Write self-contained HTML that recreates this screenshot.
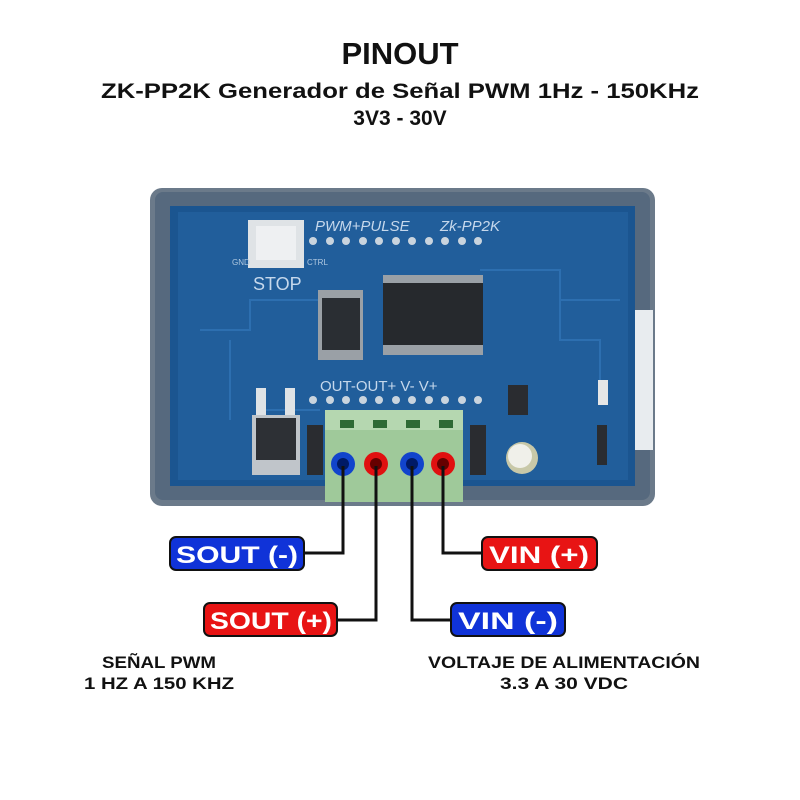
<!DOCTYPE html>
<html><head><meta charset="utf-8"><style>
html,body{margin:0;padding:0;background:#fff;width:800px;height:800px;overflow:hidden}
svg{display:block}
text{font-family:"Liberation Sans",sans-serif;font-weight:bold}
</style></head><body>
<svg width="800" height="800" viewBox="0 0 800 800">
<rect width="800" height="800" fill="#fff"/>
<text x="400" y="64" font-size="31" text-anchor="middle" fill="#111">PINOUT</text>
<text x="400" y="98" font-size="21" text-anchor="middle" fill="#111" textLength="598" lengthAdjust="spacingAndGlyphs">ZK-PP2K Generador de Señal PWM 1Hz - 150KHz</text>
<text x="400" y="125" font-size="21" text-anchor="middle" fill="#111">3V3 - 30V</text>

<rect x="150" y="188" width="505" height="318" rx="12" fill="#6b7a8a"/>
<rect x="155" y="192" width="495" height="308" rx="8" fill="#56697e"/>
<rect x="170" y="206" width="465" height="280" fill="#1b5590"/>
<rect x="178" y="212" width="450" height="268" fill="#215e9b"/>
<rect x="635" y="310" width="18" height="140" fill="#e8ecef"/>
<g stroke="#2d6fb0" stroke-width="2" fill="none">
<path d="M320 300 H250 V330 H200"/><path d="M480 270 H560 V340 H600 V400"/><path d="M230 340 V420"/><path d="M560 300 H620"/><path d="M260 410 H320"/>
</g>
<rect x="248" y="220" width="56" height="48" fill="#dfe3e6"/>
<rect x="256" y="226" width="40" height="34" fill="#eef0f2"/>
<text x="253" y="290" font-size="18" fill="#c6d8ec" style="font-weight:normal">STOP</text>
<text x="232" y="265" font-size="8" fill="#b0c8e0" style="font-weight:normal">GND</text>
<text x="307" y="265" font-size="8" fill="#b0c8e0" style="font-weight:normal">CTRL</text>
<text x="315" y="231" font-size="15" fill="#c6d8ec" font-style="italic" style="font-weight:normal">PWM+PULSE</text>
<text x="440" y="231" font-size="15" fill="#c6d8ec" font-style="italic" style="font-weight:normal">Zk-PP2K</text>
<g fill="#c9d4de">
<circle cx="313" cy="241" r="4"/><circle cx="330" cy="241" r="4"/><circle cx="346" cy="241" r="4"/><circle cx="363" cy="241" r="4"/><circle cx="379" cy="241" r="4"/><circle cx="396" cy="241" r="4"/><circle cx="412" cy="241" r="4"/><circle cx="429" cy="241" r="4"/><circle cx="445" cy="241" r="4"/><circle cx="462" cy="241" r="4"/><circle cx="478" cy="241" r="4"/>
<circle cx="313" cy="400" r="4"/><circle cx="330" cy="400" r="4"/><circle cx="346" cy="400" r="4"/><circle cx="363" cy="400" r="4"/><circle cx="379" cy="400" r="4"/><circle cx="396" cy="400" r="4"/><circle cx="412" cy="400" r="4"/><circle cx="429" cy="400" r="4"/><circle cx="445" cy="400" r="4"/><circle cx="462" cy="400" r="4"/><circle cx="478" cy="400" r="4"/>
</g>
<rect x="318" y="290" width="45" height="70" fill="#9aa0a6"/>
<rect x="322" y="298" width="38" height="52" fill="#2a2e33"/>
<rect x="383" y="275" width="100" height="80" fill="#9aa0a6"/>
<rect x="383" y="283" width="100" height="62" fill="#26292d"/>
<text x="320" y="391" font-size="15" fill="#c6d8ec" style="font-weight:normal">OUT-OUT+ V-  V+</text>
<rect x="256" y="388" width="10" height="28" fill="#dfe3e6"/><rect x="285" y="388" width="10" height="28" fill="#dfe3e6"/>
<rect x="252" y="415" width="48" height="60" fill="#c0c5ca"/>
<rect x="256" y="418" width="40" height="42" fill="#2d3035"/>
<rect x="307" y="425" width="16" height="50" fill="#2a2c30"/>
<rect x="470" y="425" width="16" height="50" fill="#2a2c30"/>
<rect x="508" y="385" width="20" height="30" fill="#2a2c30"/>
<circle cx="522" cy="458" r="16" fill="#c8c8a8"/><circle cx="520" cy="456" r="12" fill="#f0f0ea"/>
<rect x="598" y="380" width="10" height="25" fill="#e6e6e6"/>
<rect x="597" y="425" width="10" height="40" fill="#2a2c30"/>
<rect x="325" y="410" width="138" height="92" fill="#9fc99a"/>
<rect x="325" y="410" width="138" height="20" fill="#b5d7b0"/>
<rect x="340" y="420" width="14" height="8" fill="#2e6a35"/><rect x="373" y="420" width="14" height="8" fill="#2e6a35"/><rect x="406" y="420" width="14" height="8" fill="#2e6a35"/><rect x="439" y="420" width="14" height="8" fill="#2e6a35"/>
<circle cx="343" cy="464" r="12" fill="#1144cc"/><circle cx="343" cy="464" r="6" fill="#001a66"/>
<circle cx="376" cy="464" r="12" fill="#e01010"/><circle cx="376" cy="464" r="6" fill="#660000"/>
<circle cx="412" cy="464" r="12" fill="#1144cc"/><circle cx="412" cy="464" r="6" fill="#001a66"/>
<circle cx="443" cy="464" r="12" fill="#e01010"/><circle cx="443" cy="464" r="6" fill="#660000"/>
<g stroke="#111" stroke-width="3" fill="none">
<path d="M343 466 V553 H303"/>
<path d="M376 466 V620 H336"/>
<path d="M412 466 V620 H452"/>
<path d="M443 466 V553 H483"/>
</g>
<g stroke="#111" stroke-width="2">
<rect x="170" y="537" width="134" height="33" rx="6" fill="#1033d8"/>
<rect x="204" y="603" width="133" height="33" rx="6" fill="#e81414"/>
<rect x="451" y="603" width="114" height="33" rx="6" fill="#1033d8"/>
<rect x="482" y="537" width="115" height="33" rx="6" fill="#e81414"/>
</g>
<g fill="#fff" font-size="24">
<text x="176" y="563" textLength="122" lengthAdjust="spacingAndGlyphs">SOUT (-)</text>
<text x="210" y="629" textLength="122" lengthAdjust="spacingAndGlyphs">SOUT (+)</text>
<text x="458" y="629" textLength="100" lengthAdjust="spacingAndGlyphs">VIN (-)</text>
<text x="489" y="563" textLength="100" lengthAdjust="spacingAndGlyphs">VIN (+)</text>
</g>
<g fill="#111" font-size="17" text-anchor="middle">
<text x="159" y="668" textLength="114" lengthAdjust="spacingAndGlyphs">SEÑAL PWM</text>
<text x="159" y="689" textLength="150" lengthAdjust="spacingAndGlyphs">1 HZ A 150 KHZ</text>
<text x="564" y="668" textLength="272" lengthAdjust="spacingAndGlyphs">VOLTAJE DE ALIMENTACIÓN</text>
<text x="564" y="689" textLength="128" lengthAdjust="spacingAndGlyphs">3.3 A 30 VDC</text>
</g>
</svg>
</body></html>
